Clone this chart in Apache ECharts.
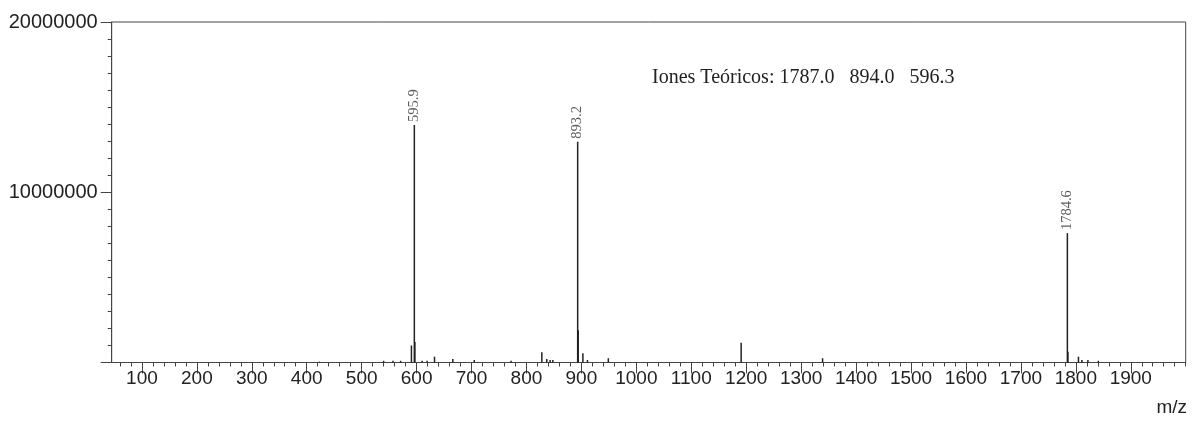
<!DOCTYPE html>
<html>
<head>
<meta charset="utf-8">
<script src="https://cdn.jsdelivr.net/npm/echarts@6/dist/echarts.min.js"></script>
<style>html,body{margin:0;padding:0;background:#fff}#c{width:1196px;height:421px}</style>
</head>
<body>
<div id="c"></div>
<script>
// Spectrum peaks (m/z, intensity)
const peakMz = [423, 540, 557, 571, 590.6, 595.9, 596.9, 610, 619, 632.6, 666, 705, 772, 828, 837, 843, 848, 893.2, 894.2, 902.7, 911, 949, 1190.8, 1339, 1429, 1784.6, 1785.6, 1804.8, 1811, 1822, 1841];
const peakIntensity = [50000, 100000, 100000, 100000, 1000000, 13950000, 1200000, 100000, 100000, 340000, 200000, 150000, 100000, 600000, 200000, 150000, 150000, 12970000, 1900000, 540000, 150000, 250000, 1160000, 250000, 50000, 7600000, 630000, 340000, 150000, 150000, 100000];
// Labelled peaks
const labeledMz = [595.9, 893.2, 1784.6];
const labeledText = ['595.9', '893.2', '1784.6'];
// Theoretical ions
const theoreticalIons = ['1787.0', '894.0', '596.3'];
// Axis ticks
const xMajorTicks = [100, 200, 300, 400, 500, 600, 700, 800, 900, 1000, 1100, 1200, 1300, 1400, 1500, 1600, 1700, 1800, 1900];
const yTickLabels = [10000000, 20000000];
const xMin = 45, xMax = 2000;
const xMinorTicks = [];
for (let v = 60; v <= 2000; v += 20) if (v % 100 !== 0 || v === 2000) xMinorTicks.push(v);

const peakData = peakMz.map((m, i) => [m, peakIntensity[i]]);
const labelData = labeledMz.map((m, i) => ({ value: [m, peakIntensity[peakMz.indexOf(m)]], name: labeledText[i] }));

const chart = echarts.init(document.getElementById('c'), null, { renderer: 'canvas' });
const axisColor = '#444';
chart.setOption({
  animation: false,
  backgroundColor: '#fff',
  grid: { left: 111.7, right: 10.3, top: 22, bottom: 58.5, show: true, borderColor: axisColor, borderWidth: 1 },
  xAxis: [{
    type: 'value', min: xMin, max: xMax,
    axisLine: { show: true, lineStyle: { color: axisColor, width: 1 } },
    axisTick: { show: true, customValues: xMajorTicks, length: 11, lineStyle: { color: axisColor } },
    axisLabel: { show: true, customValues: xMajorTicks, margin: 7, fontFamily: 'Liberation Sans, Arial, sans-serif', fontSize: 19, color: '#222', formatter: v => String(v) },
    splitLine: { show: false }
  }, {
    type: 'value', min: xMin, max: xMax, position: 'bottom',
    axisLine: { show: false },
    axisTick: { show: true, customValues: xMinorTicks, length: 4, lineStyle: { color: axisColor } },
    axisLabel: { show: false },
    splitLine: { show: false }
  }],
  yAxis: {
    type: 'value', min: 0, max: 20000000, interval: 10000000,
    axisLine: { show: true, lineStyle: { color: axisColor, width: 1 } },
    axisTick: { show: true, length: 11, lineStyle: { color: axisColor } },
    minorTick: { show: true, splitNumber: 10, length: 4, lineStyle: { color: axisColor } },
    axisLabel: {
      margin: 14, fontFamily: 'Liberation Sans, Arial, sans-serif', fontSize: 20, color: '#222',
      formatter: v => (yTickLabels.indexOf(v) >= 0 ? String(v) : '')
    },
    splitLine: { show: false }
  },
  series: [{
    type: 'custom',
    xAxisIndex: 0,
    encode: { x: 0, y: 1 },
    data: peakData,
    renderItem: function (params, api) {
      const p0 = api.coord([api.value(0), 0]);
      const p1 = api.coord([api.value(0), api.value(1)]);
      return { type: 'line', shape: { x1: p0[0], y1: p0[1], x2: p1[0], y2: p1[1] }, style: { stroke: '#222', lineWidth: 1.5 } };
    },
    z: 3
  }, {
    type: 'scatter',
    xAxisIndex: 0,
    symbolSize: 0.1,
    itemStyle: { color: 'rgba(0,0,0,0)' },
    data: labelData,
    label: {
      show: true, position: 'top', distance: 3, rotate: 90, align: 'left', verticalAlign: 'middle',
      formatter: p => p.name, fontFamily: 'Liberation Serif, Times New Roman, serif', fontSize: 14.5, color: '#333'
    },
    z: 4
  }],
  graphic: [{
    type: 'text', left: 652, top: 68,
    style: { text: 'Iones Teóricos: ' + theoreticalIons.join('   '), font: '20px "Liberation Serif", "Times New Roman", serif', fill: '#222' }
  }, {
    type: 'text', right: 9, top: 398,
    style: { text: 'm/z', font: '19px "Liberation Sans", Arial, sans-serif', fill: '#222' }
  }]
});
</script>
</body>
</html>
